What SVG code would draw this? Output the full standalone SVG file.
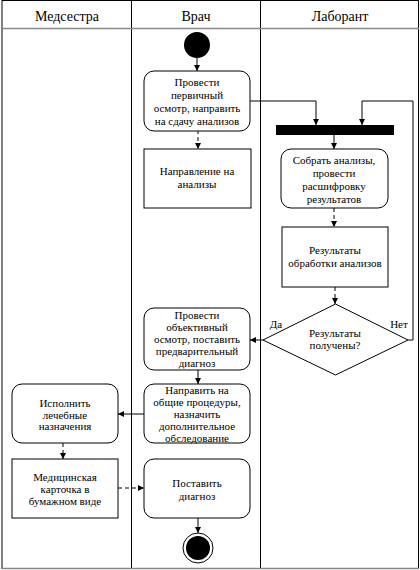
<svg xmlns="http://www.w3.org/2000/svg" width="420" height="570" viewBox="0 0 420 570">
<defs>
<marker id="ah" viewBox="0 0 6 6" refX="6" refY="3" markerWidth="6" markerHeight="6" orient="auto" markerUnits="userSpaceOnUse">
<path d="M0,0 L6,3 L0,6 z" fill="#000"/>
</marker>
<style>
.hdr{font-family:'Liberation Serif','Times New Roman',serif;font-size:14px;text-anchor:middle;fill:#000}
.t{font-family:'Liberation Serif','Times New Roman',serif;font-size:11px;text-anchor:middle;fill:#000}
.act{fill:#fff;stroke:#000;stroke-width:1}
.obj{fill:#fff;stroke:#000;stroke-width:1}
.flow{fill:none;stroke:#000;stroke-width:1;marker-end:url(#ah)}
.dflow{fill:none;stroke:#000;stroke-width:1;stroke-dasharray:4,3;marker-end:url(#ah)}
</style>
</defs>
<rect width="420" height="570" fill="#fff"/>
<g id="lanes">
<rect x="2" y="0.5" width="416.5" height="568" fill="none" stroke="#000"/>
<line x1="131.5" y1="0" x2="131.5" y2="569" stroke="#000"/>
<line x1="260.5" y1="0" x2="260.5" y2="569" stroke="#000"/>
<line x1="2" y1="28.5" x2="419" y2="28.5" stroke="#888" stroke-width="1.5"/>
<line x1="2" y1="568.5" x2="419" y2="568.5" stroke="#888" stroke-width="1.5"/>
<text class="hdr" x="67" y="21">Медсестра</text>
<text class="hdr" x="196" y="21">Врач</text>
<text class="hdr" x="340" y="21">Лаборант</text>
</g>
<g id="connectors">
<line class="flow" x1="197" y1="58" x2="197" y2="71"/>
<line class="dflow" x1="198" y1="130" x2="198" y2="149"/>
<polyline class="flow" points="250,101 316,101 316,125"/>
<polyline class="flow" points="408,340 413,340 413,101 362,101 362,125"/>
<line class="flow" x1="334" y1="135" x2="334" y2="149"/>
<line class="dflow" x1="334" y1="208" x2="334" y2="227"/>
<line class="dflow" x1="335" y1="287" x2="335" y2="304"/>
<line class="flow" x1="263" y1="340" x2="250" y2="340"/>
<line class="flow" x1="198" y1="370" x2="198" y2="384"/>
<line class="flow" x1="144" y1="414" x2="118" y2="414"/>
<line class="dflow" x1="63" y1="443" x2="63" y2="459"/>
<line class="dflow" x1="118" y1="488" x2="144" y2="488"/>
<line class="flow" x1="198" y1="518" x2="198" y2="533"/>
<text class="t" x="276" y="328">Да</text>
<text class="t" x="399" y="328">Нет</text>
</g>
<g id="start"><circle cx="197" cy="45" r="13" fill="#000"/></g>
<g id="n1">
<rect class="act" x="144" y="71" width="106" height="60" rx="10"/>
<text class="t" x="197" y="86">Провести</text>
<text class="t" x="197" y="99">первичный</text>
<text class="t" x="197" y="112">осмотр, направить</text>
<text class="t" x="197" y="125">на сдачу анализов</text>
</g>
<g id="n2">
<rect class="obj" x="144" y="149" width="107" height="59"/>
<text class="t" x="197" y="175">Направление на</text>
<text class="t" x="197" y="188">анализы</text>
</g>
<g id="bar"><rect x="276" y="125" width="118" height="10" fill="#000"/></g>
<g id="n3">
<rect class="act" x="281" y="149" width="107" height="59" rx="10"/>
<text class="t" x="334" y="164">Собрать анализы,</text>
<text class="t" x="334" y="177">провести</text>
<text class="t" x="334" y="190">расшифровку</text>
<text class="t" x="334" y="203">результатов</text>
</g>
<g id="n4">
<rect class="obj" x="282" y="227" width="106" height="60"/>
<text class="t" x="335" y="254">Результаты</text>
<text class="t" x="335" y="267">обработки анализов</text>
</g>
<g id="dec">
<polygon points="335.5,304 408,340 335.5,375 263,340" fill="#fff" stroke="#000"/>
<text class="t" x="335" y="337">Результаты</text>
<text class="t" x="335" y="349">получены?</text>
</g>
<g id="n5">
<rect class="act" x="144" y="308" width="106" height="62" rx="10"/>
<text class="t" x="197" y="319">Провести</text>
<text class="t" x="197" y="331">объективный</text>
<text class="t" x="197" y="343">осмотр, поставить</text>
<text class="t" x="197" y="355">предварительный</text>
<text class="t" x="197" y="367">диагноз</text>
</g>
<g id="n6">
<rect class="act" x="144" y="384" width="106" height="59" rx="10"/>
<text class="t" x="197" y="394">Направить на</text>
<text class="t" x="197" y="406">общие процедуры,</text>
<text class="t" x="197" y="418">назначить</text>
<text class="t" x="197" y="430">дополнительное</text>
<text class="t" x="197" y="442">обследование</text>
</g>
<g id="n7">
<rect class="act" x="12" y="384" width="106" height="59" rx="10"/>
<text class="t" x="65" y="407">Исполнить</text>
<text class="t" x="65" y="419">лечебные</text>
<text class="t" x="65" y="430">назначения</text>
</g>
<g id="n8">
<rect class="obj" x="12" y="459" width="106" height="59"/>
<text class="t" x="65" y="481">Медицинская</text>
<text class="t" x="65" y="493">карточка в</text>
<text class="t" x="65" y="505">бумажном виде</text>
</g>
<g id="n9">
<rect class="act" x="144" y="459" width="106" height="59" rx="10"/>
<text class="t" x="197" y="487">Поставить</text>
<text class="t" x="197" y="500">диагноз</text>
</g>
<g id="end">
<circle cx="198" cy="548" r="15" fill="#fff" stroke="#000"/>
<circle cx="198" cy="548" r="12" fill="#000"/>
</g>
</svg>
